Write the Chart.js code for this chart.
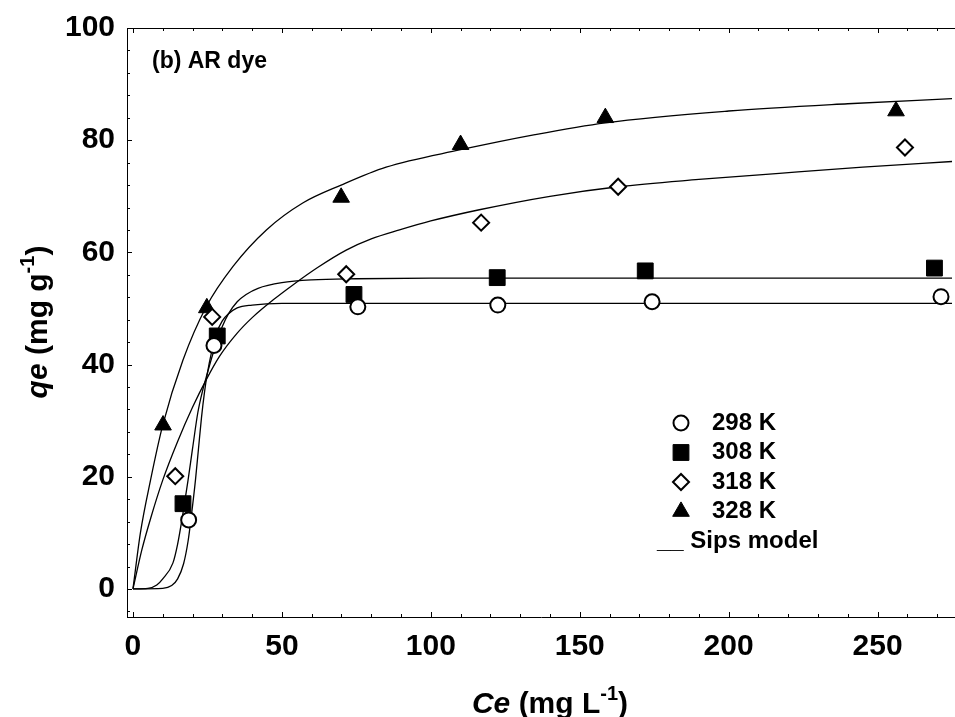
<!DOCTYPE html>
<html>
<head>
<meta charset="utf-8">
<script src="https://cdn.jsdelivr.net/npm/chart.js@4.4.0/dist/chart.umd.min.js"></script>
<style>
  html, body { margin: 0; padding: 0; background: #fff; }
  #wrap { width: 955px; height: 717px; }
</style>
</head>
<body>
<div id="wrap"><canvas id="isoChart" width="955" height="717"></canvas></div>
<script>
// Measured equilibrium points (Ce in mg/L, qe in mg/g)
const ce298 = [18.7, 27.2, 75.5, 122.5, 174.3, 271.3];
const qe298 = [12.3, 43.4, 50.3, 50.6, 51.2, 52.1];
const ce308 = [16.8, 28.3, 74.2, 122.3, 172.0, 269.1];
const qe308 = [15.2, 45.1, 52.5, 55.5, 56.7, 57.2];
const ce318 = [14.2, 26.6, 71.6, 116.9, 162.9, 259.2];
const qe318 = [20.1, 48.5, 56.1, 65.3, 71.7, 78.7];
const ce328 = [10.1, 24.8, 69.9, 110.0, 158.6, 256.2];
const qe328 = [29.2, 50.1, 69.8, 79.2, 84.0, 85.2];

// Sips model curves
const fitCe298 = [0, 10, 13, 15, 17, 18.5, 19.6, 21, 22, 23, 24, 25, 26.3, 28, 30, 32, 35, 40, 50, 60, 275];
const fitQe298 = [0, 0.1, 0.6, 1.8, 4.5, 8.5, 13, 19.5, 25, 30.5, 35, 38.5, 42, 45.5, 47.8, 49, 50.1, 50.6, 50.9, 50.9, 50.9];
const fitCe308 = [0, 5, 8, 10, 13.4, 15, 16.8, 18.5, 20, 21.8, 23.5, 25, 26.5, 28.3, 30, 32, 35, 38, 42, 50, 60, 75, 100, 275];
const fitQe308 = [0, 0.1, 0.7, 1.8, 4.6, 8, 13.5, 19.4, 25, 31.5, 35.6, 38.5, 41.3, 44.3, 46.8, 49, 51.2, 52.5, 53.6, 54.6, 55.1, 55.3, 55.4, 55.4];
const fitCe318 = [0, 3, 6, 10, 15, 20, 24.8, 29.1, 35, 40.3, 47, 53.7, 62, 71.6, 80, 89.5, 100, 116.3, 140, 162.9, 190, 217, 245, 275];
const fitQe318 = [0, 7, 12.7, 19.4, 26.3, 32.4, 37.5, 41.5, 45.6, 48.5, 51.5, 54.2, 57.3, 60.4, 62.4, 64, 65.6, 67.6, 70, 71.7, 73, 74.1, 75.2, 76.2];
const fitCe328 = [0, 2.5, 5.9, 10, 16.8, 24.6, 33.6, 44.8, 57, 69.9, 85, 110, 135, 158.6, 200, 240, 275];
const fitQe328 = [0, 10, 19.4, 29.2, 40.8, 50.3, 57.5, 64, 68.8, 72, 75.2, 78.3, 81, 83.1, 85.2, 86.5, 87.4];

const xTicks = [0, 50, 100, 150, 200, 250];
const yTicks = [0, 20, 40, 60, 80, 100];
const seriesLabels = ['298 K', '308 K', '318 K', '328 K'];
const modelLabel = 'Sips model';
const panelLabel = '(b) AR dye';

const FONT = '"Liberation Sans", Arial, Helvetica, sans-serif';

function pairs(xs, ys) {
  return xs.map((x, i) => ({ x: x, y: ys[i] }));
}

const markerStyles = [
  { pointStyle: 'circle', pointRadius: 7.5, pointBorderWidth: 2, pointBackgroundColor: '#fff' },
  { pointStyle: 'rect', pointRadius: 11.2, pointBorderWidth: 1, pointBackgroundColor: '#000' },
  { pointStyle: 'rectRot', pointRadius: 8, pointBorderWidth: 2, pointBackgroundColor: '#fff' },
  { pointStyle: 'triangle', pointRadius: 9.6, pointBorderWidth: 1, pointBackgroundColor: '#000' }
];

function curve(xs, ys) {
  return {
    data: pairs(xs, ys),
    showLine: true,
    borderColor: '#000',
    borderWidth: 1.3,
    pointRadius: 0,
    cubicInterpolationMode: 'monotone',
    order: 2
  };
}

function points(xs, ys, i) {
  return Object.assign({
    label: seriesLabels[i],
    data: pairs(xs, ys),
    showLine: false,
    pointBorderColor: '#000',
    order: 1
  }, markerStyles[i]);
}

// draw text made of runs (italic / superscript)
function drawRuns(ctx, runs, size) {
  const fontFor = r => (r.italic ? 'italic ' : '') + 'bold ' + (r.sup ? Math.round(size * 0.66) : size) + 'px ' + FONT;
  let total = 0;
  runs.forEach(r => { ctx.font = fontFor(r); total += ctx.measureText(r.t).width; });
  let x = -total / 2;
  runs.forEach(r => {
    ctx.font = fontFor(r);
    ctx.fillText(r.t, x, r.sup ? -size * 0.43 : 0);
    x += ctx.measureText(r.t).width;
  });
}

const decorations = {
  id: 'decorations',
  afterDraw(chart) {
    const ctx = chart.ctx;
    const { left, right, top, bottom } = chart.chartArea;
    const xs = chart.scales.x, ys = chart.scales.y;
    ctx.save();
    ctx.strokeStyle = '#000';
    ctx.fillStyle = '#000';
    ctx.lineWidth = 1;

    // top frame line and inward ticks
    ctx.beginPath();
    ctx.moveTo(left, top + 0.5);
    ctx.lineTo(right, top + 0.5);
    for (let v = 0; v <= xs.max; v += 10) {
      const px = Math.round(xs.getPixelForValue(v)) + 0.5;
      const len = v % 50 === 0 ? 5 : 3;
      ctx.moveTo(px, bottom);
      ctx.lineTo(px, bottom - len);
      ctx.moveTo(px, top);
      ctx.lineTo(px, top + len);
    }
    for (let v = -4; v <= ys.max; v += 4) {
      const py = Math.round(ys.getPixelForValue(v)) + 0.5;
      const len = v % 20 === 0 ? 5 : 3;
      ctx.moveTo(left, py);
      ctx.lineTo(left + len, py);
    }
    ctx.stroke();

    // panel label
    ctx.font = 'bold 23px ' + FONT;
    ctx.textAlign = 'left';
    ctx.textBaseline = 'middle';
    ctx.fillText(panelLabel, 152, 62);

    // legend
    const lx = 681, tx = 712, ly = 423, step = 29.5;
    chart.data.datasets.filter(d => d.label).forEach((d, i) => {
      const y = ly + i * step;
      ctx.fillStyle = d.pointBackgroundColor;
      ctx.strokeStyle = '#000';
      ctx.lineWidth = d.pointBorderWidth;
      Chart.helpers.drawPoint(ctx, {
        pointStyle: d.pointStyle, radius: d.pointRadius,
        borderWidth: d.pointBorderWidth, rotation: 0
      }, lx, y);
      ctx.fillStyle = '#000';
      ctx.font = 'bold 24px ' + FONT;
      ctx.fillText(d.label, tx, y);
    });
    ctx.fillText('__ ' + modelLabel, 657, ly + 4 * step);

    // axis titles
    ctx.textAlign = 'left';
    ctx.textBaseline = 'alphabetic';
    ctx.save();
    ctx.translate(550, 713);
    drawRuns(ctx, [{ t: 'Ce', italic: true }, { t: ' (mg L' }, { t: '-1', sup: true }, { t: ')' }], 30);
    ctx.restore();
    ctx.save();
    ctx.translate(47, 322);
    ctx.rotate(-Math.PI / 2);
    drawRuns(ctx, [{ t: 'qe', italic: true }, { t: ' (mg g' }, { t: '-1', sup: true }, { t: ')' }], 30);
    ctx.restore();

    ctx.restore();
  }
};

const tickFont = { family: FONT, size: 30, weight: 'bold' };

new Chart(document.getElementById('isoChart'), {
  type: 'scatter',
  data: {
    datasets: [
      curve(fitCe298, fitQe298),
      curve(fitCe308, fitQe308),
      curve(fitCe318, fitQe318),
      curve(fitCe328, fitQe328),
      points(ce298, qe298, 0),
      points(ce308, qe308, 1),
      points(ce318, qe318, 2),
      points(ce328, qe328, 3)
    ]
  },
  options: {
    responsive: false,
    animation: false,
    devicePixelRatio: 1,
    layout: { autoPadding: false, padding: { top: 28, left: 0, right: 0, bottom: 0 } },
    plugins: {
      legend: { display: false },
      tooltip: { enabled: false }
    },
    scales: {
      x: {
        type: 'linear',
        min: -2,
        max: 276,
        grid: { display: false, drawTicks: false },
        border: { display: true, color: '#000', width: 1 },
        ticks: { font: tickFont, color: '#000', padding: 12, maxRotation: 0 },
        afterBuildTicks(s) { s.ticks = xTicks.map(v => ({ value: v })); },
        afterFit(s) { s.height = 100; s.paddingLeft = 0; s.paddingRight = 0; }
      },
      y: {
        type: 'linear',
        min: -5,
        max: 100,
        grid: { display: false, drawTicks: false },
        border: { display: true, color: '#000', width: 1 },
        ticks: { font: tickFont, color: '#000', padding: 12 },
        afterBuildTicks(s) { s.ticks = yTicks.map(v => ({ value: v })); },
        afterFit(s) { s.width = 127; s.paddingTop = 0; s.paddingBottom = 0; }
      }
    }
  },
  plugins: [decorations]
});
</script>
</body>
</html>
